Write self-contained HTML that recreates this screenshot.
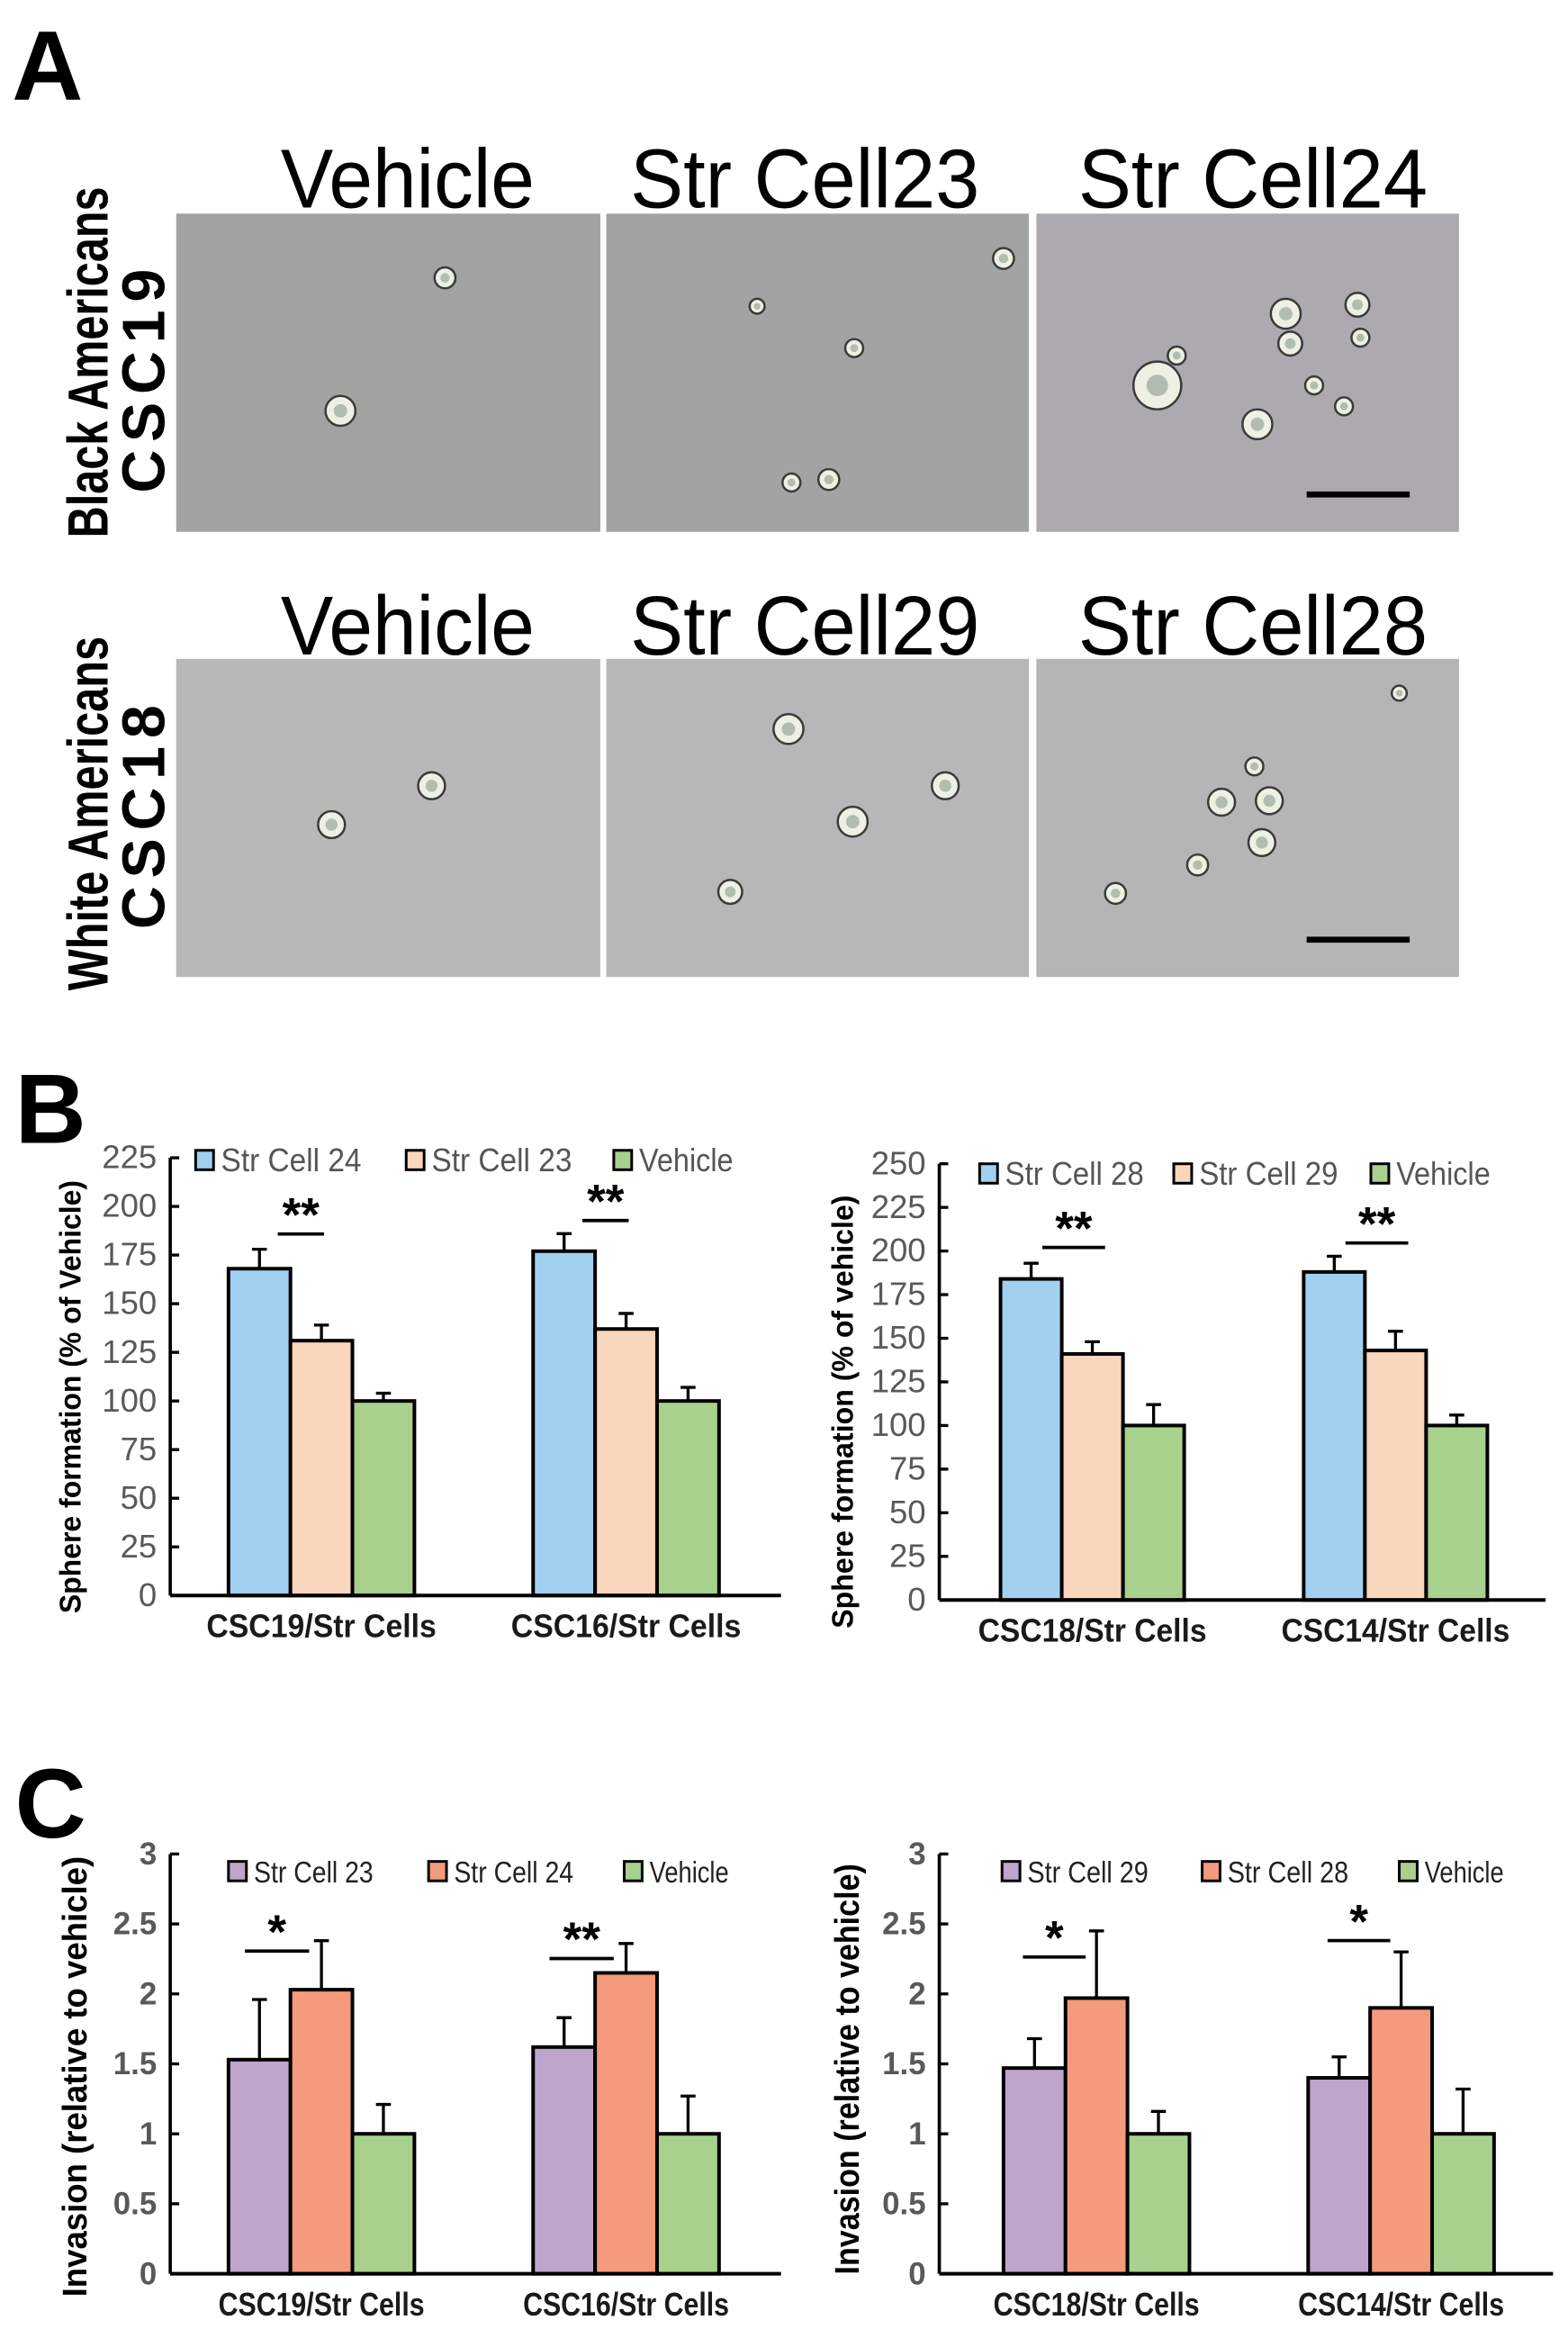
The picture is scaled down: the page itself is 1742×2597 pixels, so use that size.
<!DOCTYPE html>
<html><head><meta charset="utf-8"><style>
html,body{margin:0;padding:0;background:#fff}
svg{display:block}
text{font-family:"Liberation Sans",sans-serif}
.nar{font-family:"Liberation Sans Narrow","Liberation Sans",sans-serif}
</style></head><body>
<svg id="fig" xmlns="http://www.w3.org/2000/svg" width="1742" height="2597" viewBox="0 0 1050 1565" preserveAspectRatio="none">
<g id="panelA">
<text x="8" y="67" font-size="66" font-weight="bold">A</text>
<text x="188" y="139" font-size="56" textLength="170" lengthAdjust="spacingAndGlyphs">Vehicle</text>
<text x="422" y="139" font-size="56" textLength="234" lengthAdjust="spacingAndGlyphs">Str Cell23</text>
<text x="722" y="139" font-size="56" textLength="234" lengthAdjust="spacingAndGlyphs">Str Cell24</text>
<text x="188" y="438" font-size="56" textLength="170" lengthAdjust="spacingAndGlyphs">Vehicle</text>
<text x="422" y="438" font-size="56" textLength="234" lengthAdjust="spacingAndGlyphs">Str Cell29</text>
<text x="722" y="438" font-size="56" textLength="234" lengthAdjust="spacingAndGlyphs">Str Cell28</text>
<text transform="translate(72,360) rotate(-90)" font-size="38" font-weight="bold" textLength="235" lengthAdjust="spacingAndGlyphs">Black Americans</text>
<text transform="translate(110,330) rotate(-90)" font-size="40" font-weight="bold" textLength="150" lengthAdjust="spacing">CSC19</text>
<text transform="translate(72,663) rotate(-90)" font-size="38" font-weight="bold" textLength="237" lengthAdjust="spacingAndGlyphs">White Americans</text>
<text transform="translate(110,622) rotate(-90)" font-size="40" font-weight="bold" textLength="150" lengthAdjust="spacing">CSC18</text>
<rect x="118" y="143" width="284" height="213" fill="#a0a39f"/>
<rect x="406" y="143" width="283" height="213" fill="#a2a4a4"/>
<rect x="694" y="143" width="283" height="213" fill="#aca9af"/>
<rect x="118" y="441" width="284" height="213" fill="#b8b9b6"/>
<rect x="406" y="441" width="283" height="213" fill="#b7b7b8"/>
<rect x="694" y="441" width="283" height="213" fill="#b6b5b6"/>
<g id="spheres"></g>
<rect x="875" y="329" width="69" height="4" fill="#000"/>
<rect x="875" y="627" width="69" height="4" fill="#000"/>
</g>
<text x="10" y="765" font-size="66" font-weight="bold">B</text>
<text x="10" y="1230" font-size="66" font-weight="bold">C</text>
<g id="charts"></g>
</svg>
<script>
// ---- spheres (micrograph decoration) ----
const sphereX=[298,228,507,572,672,530,555,775,788,861,909,864,911,880,900,842,289,222,528,633,571,489,937,840,818,850,845,802,747];
const sphereY=[186,275,205,233,173,323,321,258,238,210,204,230,226,258,272,284,526,552,488,526,550,597,464,513,537,536,564,579,598];
const sphereR=[7,10,5,6,7,6,7,16,6,10,8,8,6,6,6,10,9,9,10,9,10,8,5,6,9,9,9,7,7];
const NS='http://www.w3.org/2000/svg';
const sg=document.getElementById('spheres');
for(let i=0;i<sphereX.length;i++){
  const c=document.createElementNS(NS,'circle');
  c.setAttribute('cx',sphereX[i]);c.setAttribute('cy',sphereY[i]);c.setAttribute('r',sphereR[i]);
  c.setAttribute('fill','#eef0e4');c.setAttribute('stroke','#3a3a3a');c.setAttribute('stroke-width','1.5');
  
  
  sg.appendChild(c);
  const d=document.createElementNS(NS,'circle');
  d.setAttribute('cx',sphereX[i]);d.setAttribute('cy',sphereY[i]);d.setAttribute('r',sphereR[i]*0.45);
  d.setAttribute('fill','#8a9a90');d.setAttribute('opacity','0.6');
  
  
  sg.appendChild(d);
}

// ---- chart data ----
const b1Groups=['CSC19/Str Cells','CSC16/Str Cells'];
const b1Series=['Str Cell  24','Str Cell  23','Vehicle'];
const b1Values=[[168,177],[131,137],[100,100]];
const b1Errors=[[10,9],[8,8],[4,7]];
const b1Ticks=[0,25,50,75,100,125,150,175,200,225];
const b1Sig=['**','**'];

const b2Groups=['CSC18/Str Cells','CSC14/Str Cells'];
const b2Series=['Str Cell  28','Str Cell  29','Vehicle'];
const b2Values=[[184,188],[141,143],[100,100]];
const b2Errors=[[9,9],[7,11],[12,6]];
const b2Ticks=[0,25,50,75,100,125,150,175,200,225,250];
const b2Sig=['**','**'];

const c1Groups=['CSC19/Str  Cells','CSC16/Str  Cells'];
const c1Series=['Str Cell  23','Str Cell  24','Vehicle'];
const c1Values=[[1.53,1.62],[2.03,2.15],[1.0,1.0]];
const c1Errors=[[0.43,0.21],[0.35,0.21],[0.21,0.27]];
const c1Ticks=[0,0.5,1,1.5,2,2.5,3];
const c1Sig=['*','**'];

const c2Groups=['CSC18/Str  Cells','CSC14/Str  Cells'];
const c2Series=['Str Cell  29','Str Cell  28','Vehicle'];
const c2Values=[[1.47,1.4],[1.97,1.9],[1.0,1.0]];
const c2Errors=[[0.21,0.15],[0.48,0.4],[0.16,0.32]];
const c2Ticks=[0,0.5,1,1.5,2,2.5,3];
const c2Sig=['*','*'];

const root=document.getElementById('charts');
function mk(tag,attrs,parent){const e=document.createElementNS(NS,tag);for(const k in attrs)e.setAttribute(k,attrs[k]);(parent||root).appendChild(e);return e;}

function drawChart(id,o,groups,series,values,errors,ticks,sig){
  const g=mk('g',{id:id});
  
  
  const yMax=ticks[ticks.length-1];
  const ys=v=>o.y0-(v/yMax)*(o.y0-o.yTop);
  const ya=mk('line',{x1:o.ax,y1:o.yTop,x2:o.ax,y2:o.y0,stroke:'#000','stroke-width':2.2},g);
  
  
  ticks.forEach(t=>{
    const tl=mk('line',{x1:o.ax,y1:ys(t),x2:o.ax+6,y2:ys(t),stroke:'#000','stroke-width':2},g);
    
    
    const tx=mk('text',{x:o.ax-9,y:ys(t)+7,'font-size':o.tickFs,'text-anchor':'end',fill:'#595959','font-weight':o.tickBold?'bold':'normal',class:'nar'},g);
    tx.textContent=String(t);
    
    
  });
  const colorsArr=o.colors;
  groups.forEach((gn,gi)=>{
    const gx=o.gx[gi];
    series.forEach((sn,si)=>{
      const x=gx+si*o.bw, v=values[si][gi], e=errors[si][gi];
      const r=mk('rect',{x:x,y:ys(v),width:o.bw,height:o.y0-ys(v),fill:colorsArr[si],stroke:'#000','stroke-width':2.4},g);
      
      
      const cx=x+o.bw/2;
      const el=mk('line',{x1:cx,y1:ys(v),x2:cx,y2:ys(v+e),stroke:'#000','stroke-width':2},g);
      
      
      const cap=mk('line',{x1:cx-5,y1:ys(v+e),x2:cx+5,y2:ys(v+e),stroke:'#000','stroke-width':2},g);
      
      
    });
    const lbl=mk('text',{x:gx+1.5*o.bw,y:o.y0+28,'font-size':22,'font-weight':'bold','text-anchor':'middle',fill:'#1a1a1a',textLength:o.xlW,lengthAdjust:'spacingAndGlyphs'},g);
    lbl.textContent=gn;
    
    
    const sy=o.sigY[gi], sx1=gx+o.sigOff[0], sx2=gx+o.sigOff[1];
    const sl=mk('line',{x1:sx1,y1:sy,x2:sx2,y2:sy,stroke:'#000','stroke-width':2.2},g);
    
    
    const st=mk('text',{x:(sx1+sx2)/2,y:sy-2,'font-size':32,'font-weight':'bold','text-anchor':'middle'},g);
    st.textContent=sig[gi];
    
    
  });
  const xa=mk('line',{x1:o.ax,y1:o.y0,x2:o.xEnd,y2:o.y0,stroke:'#000','stroke-width':2.4},g);
  
  
  series.forEach((sn,si)=>{
    const lx=o.legX[si];
    const sq=mk('rect',{x:lx,y:o.legY,width:12,height:13,fill:colorsArr[si],stroke:'#000','stroke-width':1.8},g);
    
    
    const lt=mk('text',{x:lx+17,y:o.legY+14,'font-size':o.legFs,fill:o.legColor,textLength:o.legW[si],lengthAdjust:'spacingAndGlyphs'},g);
    lt.textContent=sn;
    
    
  });
  const yt=mk('text',{transform:'translate('+o.ytX+','+o.ytY+') rotate(-90)','font-size':o.ytFs,'font-weight':'bold','text-anchor':'middle',fill:'#000',textLength:o.ytW,lengthAdjust:'spacingAndGlyphs'},g);
  yt.textContent=o.yTitle;
  
  
}
const cB=['#a2d0f0','#f9d6bc','#a8d18d'];
const cC=['#bea5cc','#f59a7c','#a8d18d'];
drawChart('chart-b-left',{ax:114,y0:1068,yTop:775,xEnd:523,bw:41.5,gx:[153,357],colors:cB,tickFs:22,tickBold:false,xlW:154,
  legX:[131,272,411],legY:770,legFs:22,legColor:'#555',legW:[94,94,63],sigY:[826,817],sigOff:[33,64],
  ytX:54,ytY:935,ytFs:20,ytW:290,yTitle:'Sphere formation (% of Vehicle)'},b1Groups,b1Series,b1Values,b1Errors,b1Ticks,b1Sig);
drawChart('chart-b-right',{ax:629,y0:1071,yTop:779,xEnd:1035,bw:41,gx:[670,873],colors:cB,tickFs:22,tickBold:false,xlW:153,
  legX:[656,786,918],legY:779,legFs:22,legColor:'#555',legW:[93,93,63],sigY:[835,832],sigOff:[28,70],
  ytX:571,ytY:945,ytFs:20,ytW:290,yTitle:'Sphere formation (% of vehicle)'},b2Groups,b2Series,b2Values,b2Errors,b2Ticks,b2Sig);
drawChart('chart-c-left',{ax:114,y0:1522,yTop:1241,xEnd:523,bw:41.5,gx:[153,357],colors:cC,tickFs:21,tickBold:true,xlW:138,
  legX:[153,287,418],legY:1246,legFs:20,legColor:'#222',legW:[80,80,53],sigY:[1306,1311],sigOff:[11,54],
  ytX:58,ytY:1390,ytFs:23,ytW:295,yTitle:'Invasion (relative  to vehicle)'},c1Groups,c1Series,c1Values,c1Errors,c1Ticks,c1Sig);
drawChart('chart-c-right',{ax:629,y0:1522,yTop:1241,xEnd:1040,bw:41.5,gx:[672,876],colors:cC,tickFs:21,tickBold:true,xlW:138,
  legX:[671,805,937],legY:1246,legFs:20,legColor:'#222',legW:[81,81,53],sigY:[1310,1299],sigOff:[13,55],
  ytX:575,ytY:1385,ytFs:23,ytW:275,yTitle:'Invasion (relative  to vehicle)'},c2Groups,c2Series,c2Values,c2Errors,c2Ticks,c2Sig);
</script>
</body></html>
